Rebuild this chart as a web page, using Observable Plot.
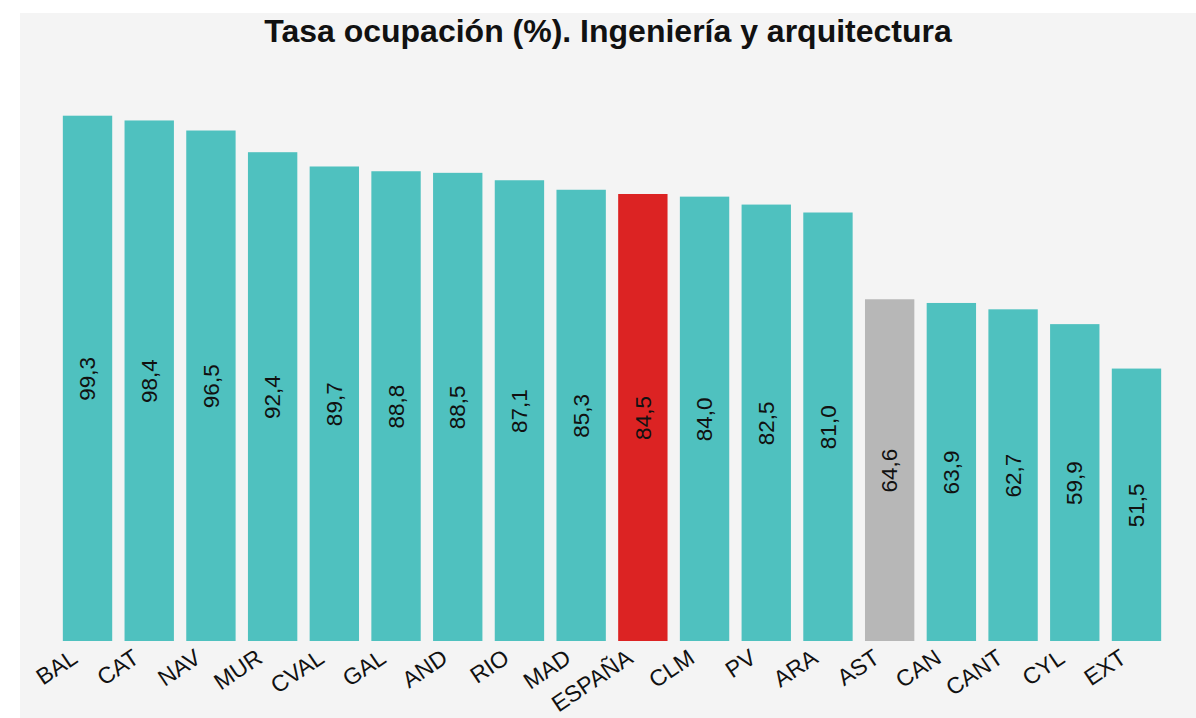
<!DOCTYPE html>
<html>
<head>
<meta charset="utf-8">
<script src="https://cdn.jsdelivr.net/npm/d3@7"></script>
<script src="https://cdn.jsdelivr.net/npm/@observablehq/plot@0.6"></script>
<style>
  html, body { margin: 0; padding: 0; background: #ffffff; }
  #panel { position: absolute; left: 20px; top: 13px; width: 1176px; height: 705px; background: #f4f4f4; overflow: hidden; }
  #title { height: 37px; line-height: 37px; text-align: center; font-family: "Liberation Sans", Arial, sans-serif; font-weight: bold; font-size: 32px; color: #111; }
  #chart svg { display: block; }
</style>
</head>
<body>
<div id="panel">
  <div id="title">Tasa ocupación (%). Ingeniería y arquitectura</div>
  <div id="chart"></div>
</div>
<script>
const regions = ["BAL","CAT","NAV","MUR","CVAL","GAL","AND","RIO","MAD","ESPAÑA","CLM","PV","ARA","AST","CAN","CANT","CYL","EXT"];
const values  = [99.3, 98.4, 96.5, 92.4, 89.7, 88.8, 88.5, 87.1, 85.3, 84.5, 84.0, 82.5, 81.0, 64.6, 63.9, 62.7, 59.9, 51.5];
const highlight = {"ESPAÑA": "#dc2323", "AST": "#b7b7b7"};
const baseColor = "#4fc1bf";

const data = regions.map((r, i) => ({region: r, value: values[i], color: highlight[r] || baseColor}));
const fmt = v => v.toFixed(1).replace(".", ",");

const chart = Plot.plot({
  width: 1176,
  height: 668,
  marginTop: 62,
  marginBottom: 77,
  marginLeft: 30.5,
  marginRight: 22.5,
  style: {background: "transparent", fontFamily: "'Liberation Sans', Arial, sans-serif"},
  x: {domain: regions, padding: 0.2, round: false, axis: null},
  y: {domain: [0, 100], axis: null},
  marks: [
    Plot.barY(data, {x: "region", y: "value", fill: d => d.color}),
    Plot.text(data, {x: "region", y: d => d.value / 2, text: d => fmt(d.value), rotate: -90, fontSize: 22.5, fill: "#111", textAnchor: "middle", lineAnchor: "middle"}),
    Plot.text(data, {x: "region", frameAnchor: "bottom", dx: -9, dy: 20, text: "region", rotate: -34, textAnchor: "end", lineAnchor: "bottom", fontSize: 23, fill: "#111"})
  ]
});
document.getElementById("chart").appendChild(chart);
</script>
</body>
</html>
